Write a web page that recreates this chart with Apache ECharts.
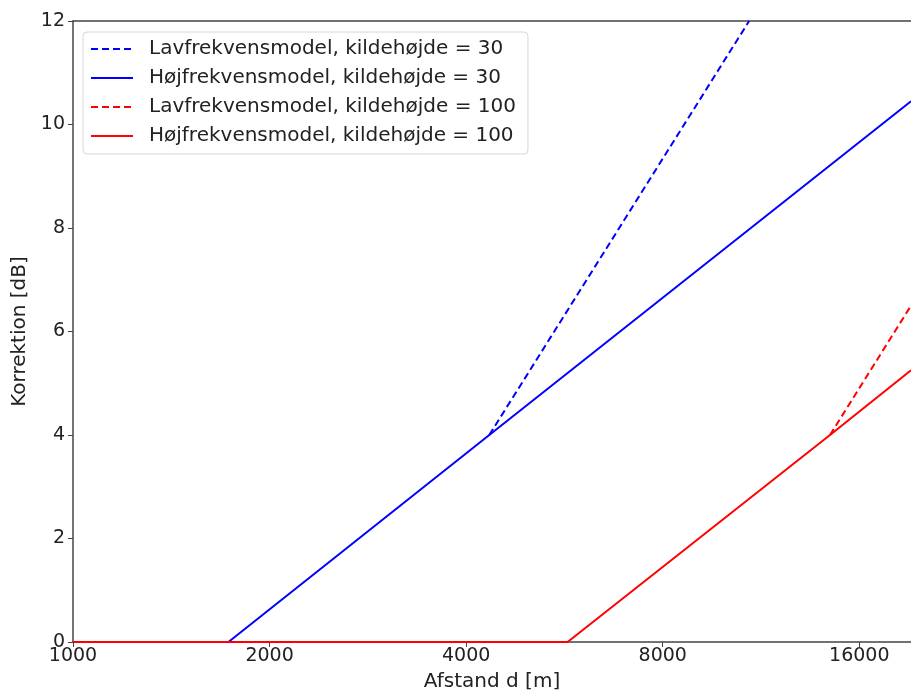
<!DOCTYPE html>
<html>
<head>
<meta charset="utf-8">
<script src="https://cdn.jsdelivr.net/npm/echarts@6/dist/echarts.min.js"></script>
<style>
  html, body { margin: 0; padding: 0; background: #fff; }
  #chart { width: 911px; height: 697px; }
</style>
</head>
<body>
<div id="chart"></div>
<script>
// afstand i meter, korrektion i dB
const lav30X = [4340, 10850];
const lav30Y = [4, 12];
const hoj30X = [1000, 1730, 4340, 19200];
const hoj30Y = [0, 0, 4, 10.45];
const lav100X = [14430, 19200];
const lav100Y = [4, 6.5];
const hoj100X = [1000, 5720, 14430, 19200];
const hoj100Y = [0, 0, 4, 5.25];

const xTicks = [1000, 2000, 4000, 8000, 16000];
const yTicks = [0, 2, 4, 6, 8, 10, 12];

const FONT = 'DejaVu Sans';
const BLUE = '#0000ff';
const RED = '#ff0000';
const AXIS = '#444';

// x-aksen er log2 i km, så ticks lander på 1000, 2000, 4000 ...
function toPoints(xs, ys) {
    return xs.map((x, i) => [x / 1000, ys[i]]);
}

function makeSeries(name, xs, ys, color, dashed) {
    return {
        name: name,
        type: 'line',
        data: toPoints(xs, ys),
        showSymbol: false,
        symbol: 'none',
        clip: true,
        animation: false,
        lineStyle: { color: color, width: 2, type: dashed ? [7, 4] : 'solid' },
        itemStyle: { color: color }
    };
}

const chart = echarts.init(document.getElementById('chart'));

chart.setOption({
    animation: false,
    backgroundColor: '#fff',
    textStyle: { fontFamily: FONT },
    grid: { left: 73, right: 0, top: 21, bottom: 55 },
    legend: {
        orient: 'vertical',
        left: 83, top: 32,
        padding: [7, 12, 8, 7],
        itemGap: 9,
        itemWidth: 42, itemHeight: 20,
        backgroundColor: 'rgba(255,255,255,0.85)',
        borderColor: '#d6d6d6', borderWidth: 1, borderRadius: 4,
        itemStyle: { opacity: 0 },
        textStyle: { fontFamily: FONT, fontSize: 20, color: '#222', padding: [0, 0, 0, 11] },
        data: [
            'Lavfrekvensmodel, kildehøjde = 30',
            'Højfrekvensmodel, kildehøjde = 30',
            'Lavfrekvensmodel, kildehøjde = 100',
            'Højfrekvensmodel, kildehøjde = 100'
        ]
    },
    xAxis: [{
        type: 'log',
        logBase: 2,
        min: 1,
        max: 19.2,
        name: 'Afstand d [m]',
        nameLocation: 'middle',
        nameGap: 30,
        nameTextStyle: { fontFamily: FONT, fontSize: 20, color: '#222' },
        axisLine: { show: true, lineStyle: { color: AXIS, width: 1.5 } },
        axisTick: { show: true, length: 5, lineStyle: { color: AXIS } },
        axisLabel: {
            showMaxLabel: false,
            margin: 5,
            fontFamily: FONT, fontSize: 19, color: '#222',
            formatter: v => {
                const m = Math.round(v * 1000);
                return xTicks.includes(m) ? String(m) : '';
            }
        },
        splitLine: { show: false }
    }, {
        // kun den øverste ramme
        type: 'log',
        logBase: 2,
        min: 1,
        max: 19.2,
        position: 'top',
        axisLine: { show: true, lineStyle: { color: AXIS, width: 1.5 } },
        axisTick: { show: false },
        axisLabel: { show: false },
        splitLine: { show: false }
    }],
    yAxis: {
        type: 'value',
        min: yTicks[0],
        max: yTicks[yTicks.length - 1],
        interval: 2,
        name: 'Korrektion [dB]',
        nameLocation: 'middle',
        nameGap: 39,
        nameTextStyle: { fontFamily: FONT, fontSize: 20, color: '#222' },
        axisLine: { show: true, lineStyle: { color: AXIS, width: 1.5 } },
        axisTick: { show: true, length: 5, lineStyle: { color: AXIS } },
        axisLabel: { margin: 8, fontFamily: FONT, fontSize: 19, color: '#222' },
        splitLine: { show: false }
    },
    series: [
        makeSeries('Lavfrekvensmodel, kildehøjde = 30', lav30X, lav30Y, BLUE, true),
        makeSeries('Højfrekvensmodel, kildehøjde = 30', hoj30X, hoj30Y, BLUE, false),
        makeSeries('Lavfrekvensmodel, kildehøjde = 100', lav100X, lav100Y, RED, true),
        makeSeries('Højfrekvensmodel, kildehøjde = 100', hoj100X, hoj100Y, RED, false)
    ]
});
</script>
</body>
</html>
